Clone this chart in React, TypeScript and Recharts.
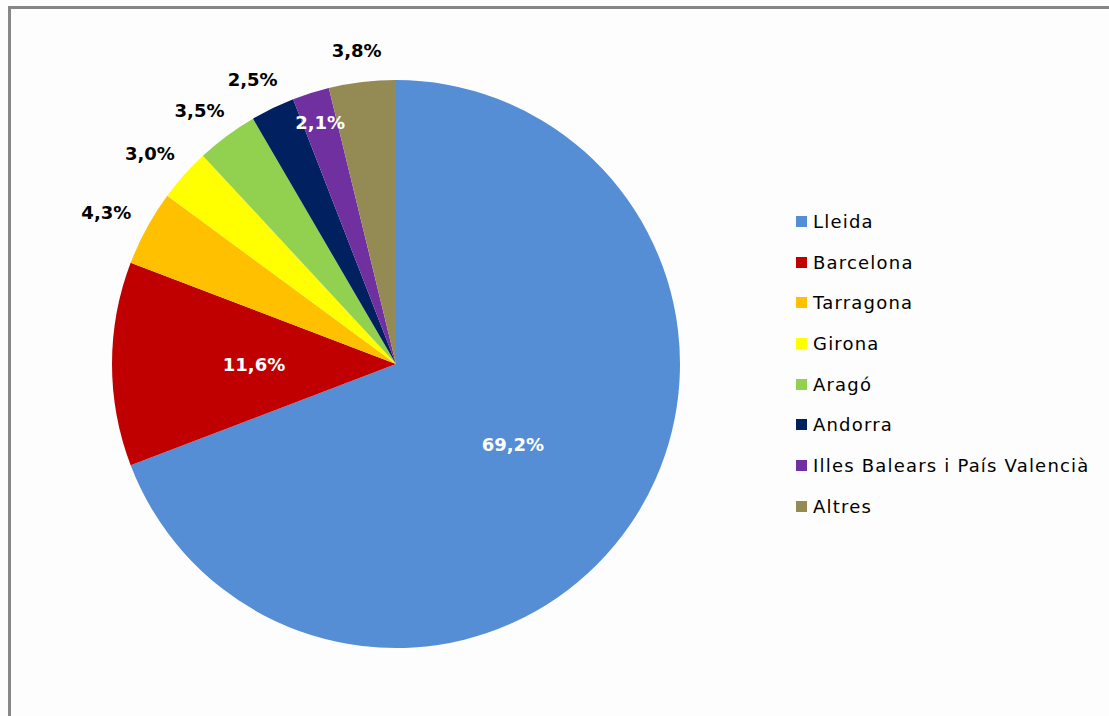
import React from 'react';
import { PieChart, Pie, Cell, Legend } from 'recharts';

const names = ['Lleida', 'Barcelona', 'Tarragona', 'Girona', 'Aragó', 'Andorra', 'Illes Balears i País Valencià', 'Altres'];
const shares = [69.2, 11.6, 4.3, 3.0, 3.5, 2.5, 2.1, 3.8];
const colors = ['#558ED5', '#C00000', '#FFC000', '#FFFF00', '#92D050', '#002060', '#7030A0', '#948A54'];
// which labels sit on the slice (white) instead of outside (black)
const insideLabel = [true, true, false, false, false, false, true, false];

const data = names.map((name, i) => ({ name, value: shares[i] }));

const RAD = Math.PI / 180;
const LABEL_W = 48;
const LABEL_H = 20;

const renderLabel = (props: any) => {
  const { cx, cy, midAngle, outerRadius, index, value } = props;
  const dx = Math.cos(-midAngle * RAD);
  const dy = Math.sin(-midAngle * RAD);
  let x, y;
  if (insideLabel[index]) {
    const r = outerRadius * (value > 10 ? 0.5 : 0.89);
    x = cx + r * dx;
    y = cy + r * dy;
  } else {
    // outside end: the label box touches a point just beyond the rim
    const r = outerRadius + 22;
    x = cx + r * dx + (dx * LABEL_W) / 2;
    y = cy + r * dy + (dy * LABEL_H) / 2;
  }
  return (
    <text
      x={x}
      y={y}
      textAnchor="middle"
      dominantBaseline="central"
      fill={insideLabel[index] ? '#ffffff' : '#000000'}
      style={{ fontFamily: '"DejaVu Sans", sans-serif', fontWeight: 'bold', fontSize: 18 }}
    >
      {value.toFixed(1).replace('.', ',') + '%'}
    </text>
  );
};

const renderLegend = () => (
  <div style={{ fontFamily: '"DejaVu Sans", sans-serif', fontSize: 18, color: '#000' }}>
    {names.map((n, i) => (
      <div key={n} style={{ display: 'flex', alignItems: 'center', height: 40.7, whiteSpace: 'nowrap' }}>
        <span style={{ display: 'inline-block', width: 11, height: 11, background: colors[i], marginRight: 6 }} />
        <span style={{ letterSpacing: 1.2 }}>{n}</span>
      </div>
    ))}
  </div>
);

export default function App() {
  return (
    <div style={{ position: 'absolute', left: 0, top: 0, width: 1109, height: 716, overflow: 'hidden', background: '#fdfdfd' }}>
      <div
        style={{
          position: 'absolute',
          left: 8,
          top: 6,
          width: 1200,
          height: 800,
          borderTop: '3px solid #878787',
          borderLeft: '3px solid #878787',
        }}
      />
      <div style={{ position: 'absolute', left: 0, top: 0 }}>
        <PieChart width={1109} height={716} margin={{ top: 0, right: 0, bottom: 0, left: 0 }}>
          <Pie
            data={data}
            dataKey="value"
            nameKey="name"
            cx={396}
            cy={364}
            outerRadius={284}
            startAngle={90}
            endAngle={-270}
            stroke="none"
            labelLine={false}
            label={renderLabel}
            isAnimationActive={false}
          >
            {data.map((d, i) => (
              <Cell key={d.name} fill={colors[i]} />
            ))}
          </Pie>
          <Legend content={renderLegend} wrapperStyle={{ left: 796, top: 201, width: 320 }} />
        </PieChart>
      </div>
    </div>
  );
}
